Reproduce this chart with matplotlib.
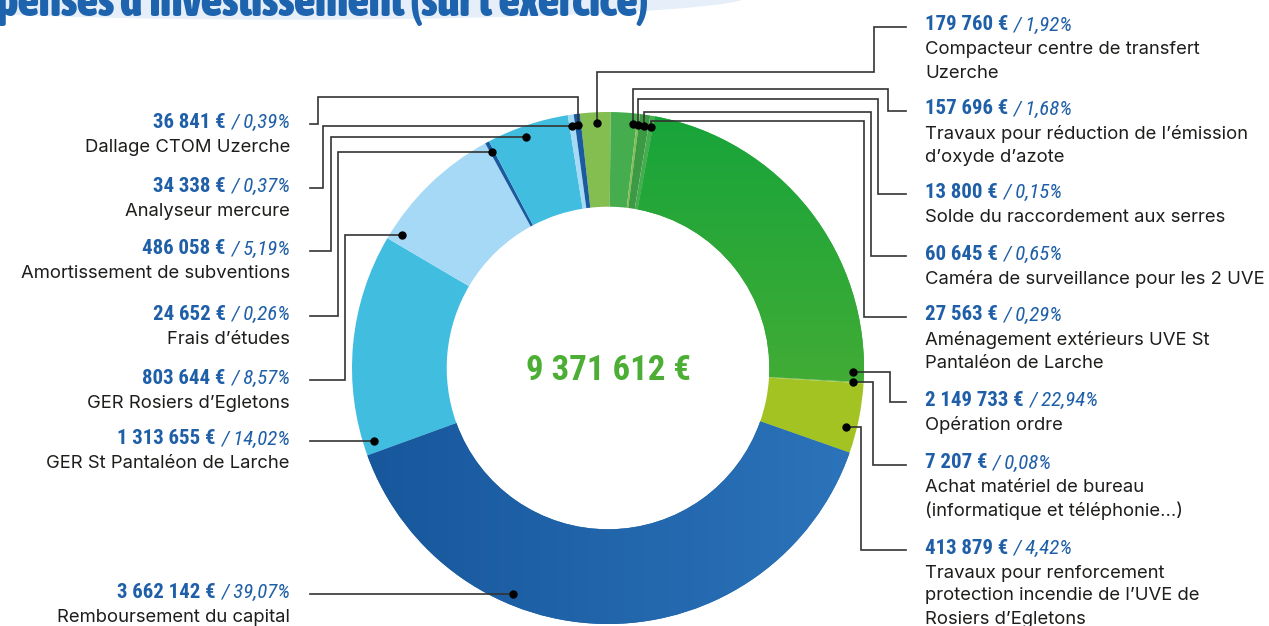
import numpy as np
import matplotlib.pyplot as plt
import matplotlib.font_manager as fm
from matplotlib.colors import LinearSegmentedColormap
from matplotlib.patches import Ellipse

# data: investment expenses, clockwise from the top of the ring
values = [179760, 157696, 13800, 60645, 27563, 2149733, 7207, 413879,
          3662142, 1313655, 803644, 24652, 486058, 34338, 36841]
pcts = ["1,92", "1,68", "0,15", "0,65", "0,29", "22,94", "0,08", "4,42",
        "39,07", "14,02", "8,57", "0,26", "5,19", "0,37", "0,39"]
labels = [
    "Compacteur centre de transfert\nUzerche",
    "Travaux pour réduction de l’émission\nd’oxyde d’azote",
    "Solde du raccordement aux serres",
    "Caméra de surveillance pour les 2 UVE",
    "Aménagement extérieurs UVE St\nPantaléon de Larche",
    "Opération ordre",
    "Achat matériel de bureau\n(informatique et téléphonie…)",
    "Travaux pour renforcement\nprotection incendie de l’UVE de\nRosiers d’Egletons",
    "Remboursement du capital",
    "GER St Pantaléon de Larche",
    "GER Rosiers d’Egletons",
    "Frais d’études",
    "Amortissement de subventions",
    "Analyseur mercure",
    "Dallage CTOM Uzerche",
]
total_label = "9 371 612 €"
title = "Dépenses d’investissement (sur l’exercice)"

colors = ["#84bd50", "#45ad4e", "#84bd50", "#3d9a44", "#45ad4e", "#2aa838",
          "#88c057", "#a3c323", "#1f64a8", "#41bde0", "#a5d9f5", "#1a5a9e",
          "#41bde0", "#a5d9f5", "#1a5a9e"]

# layout (pixels from the top-left corner)
W, H = 1269, 626
CX, CY, R = 608, 368, 256
HOLE = 0.37
R_DOT = 245
# side, label y, route, elbow x, elbow y, position of dot inside the slice
layout = [
    ("R", 25, "up", 874, 72, 0.55),
    ("R", 109, "up", 888, 89, 0.86),
    ("R", 192, "up", 878, 99, 0.5),
    ("R", 254, "up", 871, 112, 0.5),
    ("R", 315, "up", 864, 121, 0.5),
    ("R", 400, "side", 890, None, 0.974),
    ("R", 463, "side", 873, None, 0.5),
    ("R", 548, "side", 861, None, 0.66),
    ("L", 592, "straight", None, None, None),
    ("L", 439, "straight", None, None, None),
    ("L", 378, "side", 345, None, 0.08),
    ("L", 314, "side", 338, None, 0.5),
    ("L", 249, "side", 331, None, 0.43),
    ("L", 186, "side", 323, None, 0.5),
    ("L", 122, "up", 318, 97, 0.5),
]

BODY = ["Inter", "DejaVu Sans"]
BLUE = "#1f5fa8"
LINE = "#333333"

# find a condensed face if one is installed
CONDENSED = {"condensed", "semi-condensed", "extra-condensed", "ultra-condensed"}
PREF = ["Roboto Condensed", "Liberation Sans Narrow", "Noto Sans Condensed",
        "Noto Sans", "Open Sans Condensed", "Open Sans", "DejaVu Sans"]


def wnum(w):
    return w if isinstance(w, (int, float)) else fm.weight_dict.get(w, 400)


def pick(weight, italic):
    cands = [f for f in fm.fontManager.ttflist
             if f.stretch in CONDENSED or "Narrow" in f.name
             or "Condensed" in f.name]
    if not cands:
        return fm.FontProperties(family="DejaVu Sans",
                                 weight="bold" if weight > 500 else "normal",
                                 style="italic" if italic else "normal")

    def score(f):
        s = abs(wnum(f.weight) - weight) / 100
        s += 0 if (f.style != "normal") == italic else 5
        s += PREF.index(f.name) * 0.01 if f.name in PREF else 0.5
        return s
    return fm.FontProperties(fname=min(cands, key=score).fname)


F_BOLD = pick(700, False)
F_BLACK = pick(900, False)
F_ITAL = pick(400, True)


def Y(y):
    return H - y


fig = plt.figure(figsize=(W / 100, H / 100), dpi=100)
ax = fig.add_axes([0, 0, 1, 1])
ax.set_xlim(0, W)
ax.set_ylim(0, H)
renderer = fig.canvas.get_renderer()


def text_width(s, fp, size):
    t = ax.text(0, 0, s, fontproperties=fp, fontsize=size)
    w = t.get_window_extent(renderer).width
    t.remove()
    return w


def fit(s, fp, target):
    return 20 * target / text_width(s, fp, 20)


S_VAL = fit("36 841 €", F_BOLD, 73)
S_PCT = S_VAL
S_TOT = fit(total_label, F_BOLD, 165)
S_TITLE = fit(title[2:], F_BLACK, 652)

# title band + title (cropped at the top edge)
ax.add_patch(Ellipse((290, Y(-5)), 920, 48, color="#e6eff9", zorder=0))
ax.text(648, Y(16), title, fontproperties=F_BLACK, fontsize=S_TITLE,
        color="#1e63ad", ha="right", va="baseline", zorder=1)

wedges, _ = ax.pie(values, colors=colors, startangle=96.3, counterclock=False,
                   radius=R, center=(CX, Y(CY)),
                   wedgeprops=dict(width=R * HOLE, linewidth=0))


# gradients on the two big slices
def gradient(wedge, c0, c1, vertical):
    g = np.linspace(0, 1, 256)
    g = g.reshape(-1, 1) if vertical else g.reshape(1, -1)
    cmap = LinearSegmentedColormap.from_list("g", [c0, c1])
    im = ax.imshow(g, cmap=cmap, extent=(CX - R, CX + R, Y(CY + R), Y(CY - R)),
                   origin="upper", aspect="auto", zorder=2)
    im.set_clip_path(wedge)


gradient(wedges[5], "#17a43a", "#66b332", True)
gradient(wedges[8], "#17569b", "#2c74bb", False)

ax.set_xlim(0, W)
ax.set_ylim(0, H)
ax.set_aspect("equal")
ax.set_axis_off()

ax.text(CX, Y(CY + 2), total_label, fontproperties=F_BOLD, fontsize=S_TOT,
        color="#4cae35", ha="center", va="center", zorder=3)

fig.canvas.draw()
inv = ax.transData.inverted()

for w, v, p, lab, (side, ly, route, ex, ey, frac) in zip(
        wedges, values, pcts, labels, layout):
    line_y = ly + 2
    if route == "straight":
        s = np.clip((CY - line_y) / R_DOT, -1, 1)
        ang = np.degrees(np.arcsin(s))
        ang = 180 - ang if side == "L" else ang
    else:
        ang = w.theta2 - frac * (w.theta2 - w.theta1)
    dx = CX + R_DOT * np.cos(np.radians(ang))
    dy = CY - R_DOT * np.sin(np.radians(ang))

    end_x = 906 if side == "R" else 310
    if route == "up":
        xs = [dx, dx, ex, ex, end_x]
        ys = [dy, ey, ey, line_y, line_y]
    elif route == "side":
        xs = [dx, ex, ex, end_x]
        ys = [dy, dy, line_y, line_y]
    else:
        xs = [dx, end_x]
        ys = [line_y, line_y]
        dy = line_y
    ax.plot(xs, [Y(y) for y in ys], color=LINE, lw=1.2, zorder=4,
            solid_joinstyle="miter")
    ax.plot(dx, Y(dy), "o", color="black", ms=5, zorder=5)

    amount = f"{v:,}".replace(",", " ") + " €"
    pct = "/ " + p + "%"
    if side == "R":
        x0 = 925
        t = ax.text(x0, Y(ly), amount, fontproperties=F_BOLD, fontsize=S_VAL,
                    color=BLUE, ha="left", va="center")
        x1 = inv.transform(t.get_window_extent(renderer))[1, 0]
        ax.text(x1 + 5, Y(ly), pct, fontproperties=F_ITAL, fontsize=S_PCT,
                color=BLUE, ha="left", va="center")
        ha = "left"
    else:
        x0 = 290
        t = ax.text(x0, Y(ly), pct, fontproperties=F_ITAL, fontsize=S_PCT,
                    color=BLUE, ha="right", va="center")
        x1 = inv.transform(t.get_window_extent(renderer))[0, 0]
        ax.text(x1 - 5, Y(ly), amount, fontproperties=F_BOLD, fontsize=S_VAL,
                color=BLUE, ha="right", va="center")
        ha = "right"
    for i, row in enumerate(lab.split("\n")):
        ax.text(x0, Y(ly + 25 + 23 * i), row, family=BODY, fontsize=13.3,
                color="#1d1d1b", ha=ha, va="center")

fig.savefig("out.png", dpi=100)
